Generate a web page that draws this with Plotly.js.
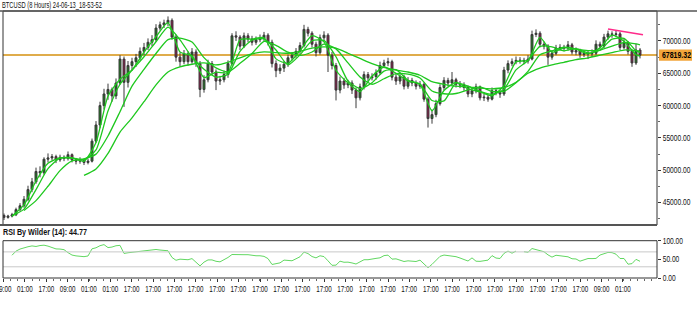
<!DOCTYPE html>
<html>
<head>
<meta charset="utf-8">
<script src="https://cdn.plot.ly/plotly-3.0.1.min.js"></script>
<style>html,body{margin:0;padding:0;background:#fff;}#chart{width:697px;height:310px;}</style>
</head>
<body>
<div id="chart"></div>
<script>
// ---- Data (prices in thousands of USD, one candle per 8 hours) ----
const openP = [43.0,42.7,42.9,43.1,43.9,44.5,45.5,47.0,48.2,49.8,
49.6,51.7,51.9,52.1,51.6,52.0,51.8,52.4,51.6,51.4,
51.6,51.2,51.4,54.5,57.0,60.0,61.8,62.5,61.5,63.5,
67.2,63.6,66.2,66.8,67.4,68.4,69.0,69.8,70.2,72.0,
72.5,72.8,73.2,70.6,67.5,66.8,68.0,66.8,68.3,66.5,
62.5,64.0,66.5,65.2,63.8,64.0,64.8,66.5,70.8,70.6,
69.2,70.8,70.3,69.8,70.2,70.4,70.9,69.8,66.5,65.4,
65.8,66.4,67.4,67.8,68.4,69.3,71.8,71.2,69.5,68.2,
70.5,70.9,67.8,66.2,62.4,63.8,63.2,63.5,62.4,61.2,
62.9,64.8,64.3,64.5,65.1,66.2,66.6,66.8,64.4,63.8,
64.5,63.0,63.9,63.5,63.0,63.3,61.0,58.0,58.6,60.3,
62.8,63.9,63.5,64.0,63.3,63.2,62.8,61.8,62.3,62.9,
61.2,61.3,61.0,62.3,62.0,61.8,65.5,66.5,66.8,67.0,
67.0,66.9,67.2,71.0,71.2,69.5,69.2,67.5,68.1,68.9,
69.0,68.9,69.4,68.3,68.5,67.9,68.1,68.0,68.1,69.5,
69.2,70.6,71.1,71.0,71.1,69.0,69.8,68.4,66.6,68.6];

const highP = [43.3,43.1,43.4,44.2,44.9,46.0,47.6,48.8,50.4,50.6,
52.0,52.6,52.5,52.4,52.4,52.3,52.9,52.6,51.9,52.0,
51.8,51.8,54.9,57.6,60.6,62.6,63.4,62.8,64.2,67.8,
67.6,66.9,67.4,68.0,69.0,69.7,70.4,70.9,72.6,73.0,
73.3,73.8,73.5,71.0,68.2,68.6,68.4,68.9,68.7,66.9,
64.7,67.1,66.9,65.6,64.6,65.4,67.0,71.2,71.5,70.9,
71.3,71.2,70.8,70.7,71.0,71.4,71.2,70.2,67.0,66.4,
66.9,67.9,68.3,68.9,69.8,72.5,72.2,71.5,69.9,71.0,
71.5,71.2,68.3,66.6,64.5,64.3,64.0,63.9,62.8,63.4,
65.3,65.2,65.0,65.6,66.8,67.1,67.4,67.1,64.9,65.0,
64.8,64.4,64.3,63.9,63.8,63.6,61.3,59.4,60.9,63.3,
64.4,64.3,65.2,64.3,63.8,63.6,63.1,62.8,63.4,63.1,
61.8,61.7,62.8,62.7,62.4,66.0,67.0,67.3,67.6,67.5,
67.4,67.8,71.6,71.8,71.5,69.9,69.5,68.6,69.4,69.5,
69.4,70.0,69.7,69.0,68.8,68.6,68.5,68.7,70.1,69.9,
71.1,71.6,71.5,71.6,71.4,70.3,70.0,68.7,69.6,68.9];

const lowP = [42.3,42.5,42.7,42.9,43.6,44.2,45.2,46.6,47.9,48.9,
49.3,51.2,51.5,51.1,51.3,51.4,51.5,51.2,50.9,51.0,
50.8,50.9,51.2,54.2,56.5,59.4,60.9,60.6,61.0,63.2,
59.8,62.8,65.4,66.0,67.0,67.8,68.6,69.2,69.9,71.6,
72.0,72.3,70.2,66.8,66.0,66.4,66.2,66.5,66.0,61.3,
62.0,63.6,64.8,62.4,63.2,63.6,64.3,66.2,70.0,68.6,
68.9,69.8,69.3,69.4,69.8,70.0,69.3,65.9,64.4,64.9,
65.2,66.0,67.0,67.4,68.0,69.0,70.7,69.0,67.6,67.9,
70.0,65.2,65.6,60.8,61.9,62.6,62.7,61.8,59.6,60.8,
62.5,63.7,63.9,64.0,64.8,65.8,66.1,63.9,63.2,63.3,
62.5,62.6,63.0,62.5,62.6,60.6,56.6,57.2,58.2,60.0,
62.4,63.0,63.1,62.8,62.7,62.3,61.3,61.3,61.9,60.8,
60.7,60.6,60.8,61.6,61.2,61.5,65.0,66.1,66.4,66.5,
66.4,66.5,67.0,70.6,69.0,68.7,66.3,67.1,67.8,68.5,
68.4,68.5,67.9,67.8,67.4,67.5,67.2,67.5,67.8,68.8,
68.9,70.2,70.5,70.6,68.6,68.7,67.9,66.0,66.3,67.3];

const closeP = [42.7,42.9,43.1,43.9,44.5,45.5,47.0,48.2,49.8,49.6,
51.7,51.9,52.1,51.6,52.0,51.8,52.4,51.6,51.4,51.6,
51.2,51.4,54.5,57.0,60.0,61.8,62.5,61.5,63.5,67.2,
63.6,66.2,66.8,67.4,68.4,69.0,69.8,70.2,72.0,72.5,
72.8,73.2,70.6,67.5,66.8,68.0,66.8,68.3,66.5,62.5,
64.0,66.5,65.2,63.8,64.0,64.8,66.5,70.8,70.6,69.2,
70.8,70.3,69.8,70.2,70.4,70.9,69.8,66.5,65.4,65.8,
66.4,67.4,67.8,68.4,69.3,71.8,71.2,69.5,68.2,70.5,
70.9,67.8,66.2,62.4,63.8,63.2,63.5,62.4,61.2,62.9,
64.8,64.3,64.5,65.1,66.2,66.6,66.8,64.4,63.8,64.5,
63.0,63.9,63.5,63.0,63.3,61.0,58.0,58.6,60.3,62.8,
63.9,63.5,64.0,63.3,63.2,62.8,61.8,62.3,62.9,61.2,
61.3,61.0,62.3,62.0,61.8,65.5,66.5,66.8,67.0,67.0,
66.9,67.2,71.0,71.2,69.5,69.2,67.5,68.1,68.9,69.0,
68.9,69.4,68.3,68.5,67.9,68.1,68.0,68.1,69.5,69.2,
70.6,71.1,71.0,71.1,69.0,69.8,68.4,66.6,68.6,67.8];

// Moving averages read at every third candle
const maIdx = [2,5,8,11,14,17,20,23,26,29,32,35,38,41,44,47,50,53,56,59,62,65,68,71,74,77,80,83,86,89,92,95,98,101,104,107,110,113,116,119,122,125,128,131,134,137,140,143,146,149,152,155,158,159];
const maFast = [42.9,44.63,48.33,51.07,51.9,51.93,51.4,54.3,61.43,64.07,65.53,68.27,70.67,72.83,68.3,67.7,64.33,65.17,65.1,70.2,70.3,70.5,67.23,66.53,68.5,70.83,69.87,65.47,63.5,62.17,64.53,65.97,65.0,63.8,63.27,59.2,62.33,63.6,62.6,62.13,61.53,63.1,66.77,67.03,70.57,68.27,68.93,68.73,68.0,68.93,70.9,69.97,67.87,67.67];
const maMid = [42.9,43.98,47.0,50.24,51.86,51.88,51.64,53.14,59.16,63.3,65.46,67.56,69.88,72.14,70.18,67.48,65.62,64.4,64.86,68.38,70.14,70.32,68.6,66.3,67.86,70.04,70.06,67.56,63.82,62.64,63.54,65.34,65.56,63.92,63.34,60.78,60.72,63.5,63.02,62.2,61.74,62.52,65.52,66.98,69.16,69.1,68.48,68.82,68.16,68.58,70.28,70.4,68.48,68.24];
const maSlow = [null,43.77,45.29,47.52,49.94,51.45,51.76,52.49,55.3,59.06,63.01,65.61,68.06,70.21,70.44,69.85,67.42,65.84,65.21,66.54,68.06,69.95,69.33,68.26,67.77,68.3,69.5,68.78,66.6,64.43,63.3,64.15,64.94,64.88,64.28,62.26,61.83,61.87,62.42,62.89,62.21,62.21,63.54,65.3,67.86,68.46,69.05,68.73,68.51,68.59,69.2,69.74,69.54,69.4];
const maLong = [null,null,null,null,null,null,49.2,50.2,52.6,55.9,58.1,60.6,63.2,65.2,66.0,66.4,66.6,66.3,66.7,67.4,68.0,68.3,68.2,68.1,68.4,68.9,69.1,68.9,68.1,67.3,66.5,65.9,65.5,65.2,64.7,63.7,63.3,63.0,62.9,62.7,62.6,62.8,63.6,65.0,65.8,66.3,66.7,67.1,67.4,67.8,68.2,68.6,68.5,68.4];

// RSI (14) by Wilder, one value per candle
const rsi = [null,null,61,72,77.6,81.5,83.8,86,84.5,87,
88,85.5,81,78,77.6,76,68,61.5,59.3,58.6,
57.2,59,78.3,81,86.6,89.5,81.5,83,86.5,87.5,
65.9,67.7,69,70.2,71.6,73,75,77,76.5,75,
74.5,73,55,47.5,50.5,49,49,52,41,32.5,
42.5,48.5,48.5,44.8,43.3,48.9,55,63,62.5,61.3,
62.5,62.5,60.2,59.6,59.6,58,52,36.3,38.4,40.6,
48,47.3,46.2,51.5,57,69.5,65.5,57.6,54,59.6,
57.4,46,34,34.5,45.1,42.2,42.5,40.4,37.5,43.3,
49,49,50,52.6,54.1,60,61.3,50.6,51.4,47.9,
44.2,46,46,44.2,47.9,37,27.5,36.5,46,58,
61.5,59.6,59.5,57.2,53.6,50.5,45.5,54,45,44.6,
46.2,47.9,60,53.5,52.3,66,72.2,66.5,72.2,null,
70.5,69,79,76,71.8,70.4,62,56,61,60,
58.4,56.8,51.6,51,45.1,49.5,52.2,52,52.5,61.5,
64.5,68.6,68,63.8,52.3,52.3,37,38.5,50,44.77];

// Pink trend line (candle index, price)
const trendIdx = [151, 159.75];
const trendVal = [71.85, 70.95];

const currentPrice = 67.81932;
const currentLabel = "67819.32";

const priceTicks = [45, 50, 55, 60, 65, 70];
const priceTickText = ["45000.00","50000.00","55000.00","60000.00","65000.00","70000.00"];
const rsiTicks = [0, 50, 100];
const rsiTickText = ["0.00","50.00","100.00"];
const rsiLevels = [30, 70];

const timeTickIdx = [-0.1,5.2,10.6,15.9,21.2,26.6,31.9,37.3,42.6,47.9,53.3,58.6,64.0,69.3,74.6,80.0,85.3,90.7,96.0,101.3,106.7,112.0,117.4,122.7,128.0,133.4,138.7,144.1,149.4,154.7];
const timeTickText = ["09:00","01:00","17:00","09:00","01:00","01:00",
"17:00","17:00","17:00","17:00","17:00","17:00","17:00","17:00","17:00","17:00","17:00",
"17:00","17:00","17:00","17:00","17:00","17:00","17:00","17:00","17:00","17:00","17:00",
"09:00","01:00"];

const titleText = "BTCUSD (8 Hours) 24-06-13_18-53-52";
const rsiTitle = "RSI By Wilder (14): 44.77";

// ---- Drawing ----
const idx = closeP.map((_, i) => i);
const FONT = "'Liberation Sans', Arial, sans-serif";
const maColor = '#1ec81e';
const mainBottom = 0.1985, rsiTop = 0.1397;
const yr = [41.52, 74.64];
const toPaperY = v => mainBottom + (v - yr[0]) / (yr[1] - yr[0]) * (1 - mainBottom);

const maLine = {color:maColor, width:1.3, shape:'spline', smoothing:0.6};
const traces = [
  {type:'candlestick', x: idx, open: openP, high: highP, low: lowP, close: closeP,
   xaxis:'x', yaxis:'y', hoverinfo:'skip', whiskerwidth:0,
   increasing:{line:{color:'#3a3a3a', width:1}, fillcolor:'#1f7a1f'},
   decreasing:{line:{color:'#3a3a3a', width:1}, fillcolor:'#8b1a4a'}},
  {type:'scatter', mode:'lines', x: maIdx, y: maLong, line:maLine, hoverinfo:'skip'},
  {type:'scatter', mode:'lines', x: maIdx, y: maSlow, line:maLine, hoverinfo:'skip'},
  {type:'scatter', mode:'lines', x: maIdx, y: maMid, line:maLine, hoverinfo:'skip'},
  {type:'scatter', mode:'lines', x: maIdx, y: maFast, line:maLine, hoverinfo:'skip'},
  {type:'scatter', mode:'lines', x: trendIdx, y: trendVal, line:{color:'#ff2a8a', width:1.5}, hoverinfo:'skip'},
  {type:'scatter', mode:'lines', x: idx, y: rsi, xaxis:'x', yaxis:'y2', line:{color:'#62d862', width:1}, connectgaps:false, hoverinfo:'skip'}
];

const tickFont = {family: FONT, size: 8.5, color: '#111'};

const layout = {
  width: 697, height: 310,
  margin: {l:3, r:40, t:11, b:32, pad:0},
  paper_bgcolor:'#ffffff', plot_bgcolor:'#ffffff',
  showlegend:false,
  font:{family: FONT, size: 8.5, color:'#111'},
  xaxis: {domain:[0,1], range:[-0.25, 163.25], anchor:'y2', type:'linear',
    tickmode:'array', tickvals: timeTickIdx, ticktext: timeTickText, tickangle:0,
    ticklabeloverflow:'allow',
    ticks:'outside', ticklen:3, tickcolor:'#333', tickfont: tickFont,
    showgrid:false, zeroline:false, showline:false, fixedrange:true,
    rangeslider:{visible:false},
    minor:{tickmode:'linear', tick0:-0.1, dtick:1.78, ticks:'outside', ticklen:2, tickcolor:'#666', showgrid:false}},
  yaxis: {domain:[mainBottom,1], range:yr, side:'right', anchor:'x',
    tickmode:'array', tickvals: priceTicks, ticktext: priceTickText,
    ticks:'outside', ticklen:3, tickcolor:'#333', tickfont: tickFont,
    showgrid:false, zeroline:false, showline:false, fixedrange:true,
    minor:{tickmode:'linear', tick0:42.5, dtick:5, ticks:'outside', ticklen:2, tickcolor:'#666', showgrid:false}},
  yaxis2: {domain:[0,rsiTop], range:[0,100], side:'right', anchor:'x',
    tickmode:'array', tickvals: rsiTicks, ticktext: rsiTickText,
    ticks:'outside', ticklen:3, tickcolor:'#333', tickfont: tickFont,
    showgrid:false, zeroline:false, showline:false, fixedrange:true},
  shapes: [
    {type:'line', xref:'paper', yref:'y2', x0:0, x1:1, y0:rsiLevels[0], y1:rsiLevels[0], line:{color:'#c8c8c8', width:1}},
    {type:'line', xref:'paper', yref:'y2', x0:0, x1:1, y0:rsiLevels[1], y1:rsiLevels[1], line:{color:'#c8c8c8', width:1}},
    {type:'line', xref:'paper', yref:'y', x0:0, x1:1, y0:currentPrice, y1:currentPrice, line:{color:'#d4900f', width:1.5}, layer:'below'},
    {type:'rect', xref:'paper', yref:'paper', x0:1.003, x1:1.0535, y0:toPaperY(currentPrice)-0.021, y1:toPaperY(currentPrice)+0.021,
     line:{width:0}, fillcolor:'#f2a53a'},
    {type:'rect', xref:'paper', yref:'paper', x0:0, x1:1, y0:mainBottom, y1:1, line:{color:'#333', width:1}},
    {type:'rect', xref:'paper', yref:'paper', x0:0, x1:1, y0:0, y1:rsiTop, line:{color:'#333', width:1}},
    {type:'line', xref:'paper', yref:'paper', x0:-0.006, x1:1.07, y0:1, y1:1, line:{color:'#555', width:1.5}},
    {type:'line', xref:'paper', yref:'paper', x0:-0.006, x1:1, y0:mainBottom, y1:mainBottom, line:{color:'#555', width:2}}
  ],
  annotations: [
    {xref:'paper', yref:'paper', x:-0.0015, y:1.021, xanchor:'left', yanchor:'middle', showarrow:false,
     text: titleText, font:{family:FONT, size:8.5, color:'#111'}},
    {xref:'paper', yref:'paper', x:0.0, y:0.171, xanchor:'left', yanchor:'middle', showarrow:false,
     text: '<b>' + rsiTitle + '</b>', font:{family:FONT, size:8.5, color:'#111'}},
    {xref:'paper', yref:'y', x:1.006, y:currentPrice, xanchor:'left', yanchor:'middle', showarrow:false,
     text: '<b>' + currentLabel + '</b>', font:{family:FONT, size:8.5, color:'#000'}}
  ]
};

Plotly.newPlot('chart', traces, layout, {staticPlot:true, displayModeBar:false}).then(gd => {
  // condense text horizontally to match the narrow terminal font
  const squeeze = (el, f, width) => {
    const L = el.getComputedTextLength();
    const target = width || L * f;
    el.setAttribute('textLength', target.toFixed(1));
    el.setAttribute('lengthAdjust', 'spacingAndGlyphs');
  };
  gd.querySelectorAll('.xtick text').forEach(t => squeeze(t, 0.74));
  gd.querySelectorAll('.ytick text, .y2tick text').forEach(t => squeeze(t, 0.78));
  const ann = gd.querySelectorAll('.annotation-text');
  const widths = [100, 84, 29];
  const lefts = [2, 3, 662];
  ann.forEach((t, k) => {
    t.setAttribute('text-anchor', 'start');
    const bb = t.getBBox();
    const ctm = t.getCTM();
    const curLeft = ctm.a * bb.x + ctm.e;
    const xAttr = parseFloat(t.getAttribute('x') || '0');
    t.setAttribute('x', (xAttr + (lefts[k] - curLeft) / ctm.a).toFixed(1));
    squeeze(t, 1, widths[k]);
  });
});
</script>
</body>
</html>
